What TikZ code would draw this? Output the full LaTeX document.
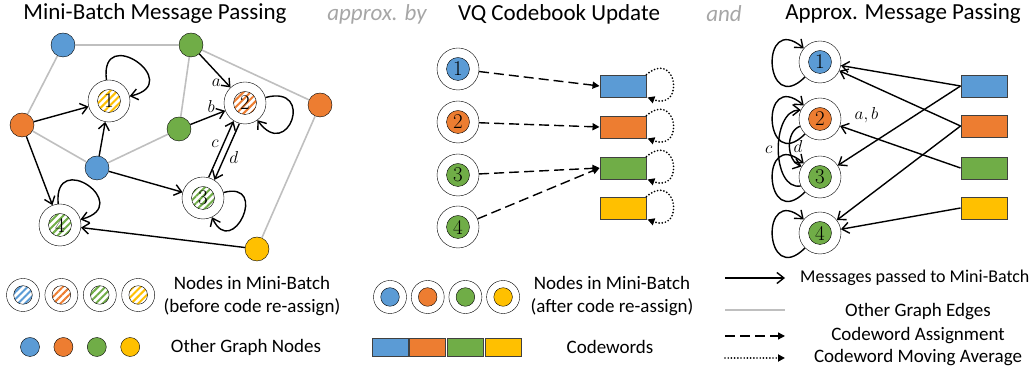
\documentclass[tikz,border=0pt]{standalone}
\usepackage{fontspec}
\setsansfont{Carlito}
\usetikzlibrary{arrows.meta, positioning, calc, patterns.meta}

\definecolor{cblue}{HTML}{5B9BD5}
\definecolor{corange}{HTML}{ED7D31}
\definecolor{cgreen}{HTML}{70AD47}
\definecolor{cyellow}{HTML}{FFC000}
\definecolor{cgray}{HTML}{BFBFBF}
\definecolor{ctext}{HTML}{A6A6A6}

\newcommand{\titlefont}{\sffamily\fontsize{23}{27}\selectfont}
\newcommand{\legfont}{\sffamily\fontsize{19}{23}\selectfont}
\newcommand{\numfont}{\rmfamily\fontsize{21}{24}\selectfont}

\begin{document}
\begin{tikzpicture}[
    x=1pt, y=1pt,
    title/.style={font=\titlefont},
    joiner/.style={font=\titlefont\itshape, text=ctext},
    legend/.style={font=\legfont, align=center},
    other/.style={circle, draw, thin, fill=#1, minimum size=24pt, inner sep=0pt},
    hatched/.style 2 args={circle, draw, thin, fill=white, minimum size=42pt, inner sep=0pt, font=\numfont,
        path picture={\draw[thin, pattern={Lines[angle=45,distance=5pt,line width=2pt]}, pattern color=#1]
            (path picture bounding box.center) circle[radius=#2];}},
    filled/.style 2 args={circle, draw, thin, fill=white, minimum size=42pt, inner sep=0pt, font=\numfont,
        path picture={\draw[thin, fill=#1] (path picture bounding box.center) circle[radius=#2];}},
    codeword/.style={rectangle, draw=black!75, line width=0.9pt, fill=#1, minimum width=46pt, minimum height=22pt, inner sep=0pt},
    lbl/.style={font=\fontsize{17}{19}\selectfont},
    msg/.style={-{Straight Barb[length=7pt,width=11pt]}, line width=1.4pt},
    graphedge/.style={draw=cgray, line width=1.6pt},
    assign/.style={-{Triangle[length=7pt,width=7pt]}, line width=1.4pt, dash pattern=on 10pt off 5pt},
    ema/.style={-{Triangle[length=7pt,width=7pt]}, line width=1.9pt, line cap=round, dash pattern=on 0pt off 3.2pt}
]
\useasboundingbox (0,0) rectangle (1031,371);

% Titles
\node[title] (t1) at (155,357) {Mini-Batch Message Passing};
\node[joiner] (t2) at (377,357) {approx. by};
\node[title] (t3) at (559,357) {VQ Codebook Update};
\node[joiner] (t4) at (724,357) {and};
\node[title] (t5) at (903,357) {Approx. Message Passing};

% Graph: other nodes
\node[other=cblue] (bt) at (63,326) {};
\node[other=corange] (ol) at (22,246) {};
\node[other=cblue] (bm) at (97,203) {};
\node[other=cgreen] (gt) at (191,326) {};
\node[other=cgreen] (gm) at (179,242) {};
\node[other=corange] (or) at (320,266) {};
\node[other=cyellow] (yb) at (257,122) {};

% Graph: mini-batch nodes
\node[hatched={cyellow}{11.5pt}] (n1) at (109,270) {1};
\node[hatched={corange}{11.5pt}] (n2) at (245,268) {2};
\node[hatched={cgreen}{11.5pt}] (n3) at (203,173) {3};
\node[hatched={cgreen}{11.5pt}] (n4) at (60,146) {4};

\draw[graphedge] (bt) -- (gt);
\draw[graphedge] (bt) -- (ol);
\draw[graphedge] (gt) -- (gm);
\draw[graphedge] (gt) -- (or);
\draw[graphedge] (ol) -- (bm);
\draw[graphedge] (bm) -- (gm);
\draw[graphedge] (or) -- (yb);

\draw[msg] (ol) -- (n1);
\draw[msg] (ol) -- (n4);
\draw[msg] (bm) -- (n1);
\draw[msg] (bm) -- (n3);
\draw[msg] (yb) -- (n4);
\draw[msg] (gt) -- node[lbl, pos=0.85, left=1pt] {$a$} (n2);
\draw[msg] (gm) -- node[lbl, pos=0.6, above] {$b$} (n2);
\draw[msg, transform canvas={shift={(-2.9pt,1.3pt)}}] (n3) -- node[lbl, pos=0.6, left=1pt] {$c$} (n2);
\draw[msg, transform canvas={shift={(2.9pt,-1.3pt)}}] (n2) -- node[lbl, pos=0.6, right=1pt] {$d$} (n3);

\draw[msg] (n1) to[out=97,in=13,distance=58pt] (n1);
\draw[msg] (n4) to[out=95,in=15,distance=56pt] (n4);
\draw[msg] (n2) to[out=15,in=-54,distance=52pt] (n2);
\draw[msg] (n3) to[out=15,in=-65,distance=48pt] (n3);

% Codebook update
\node[filled={cblue}{11.5pt}] (m1) at (458,302) {1};
\node[filled={corange}{11.5pt}] (m2) at (458,249) {2};
\node[filled={cgreen}{11.5pt}] (m3) at (458,196) {3};
\node[filled={cgreen}{11.5pt}] (m4) at (458,144) {4};

\node[codeword=cblue] (c1) at (623,285) {};
\node[codeword=corange] (c2) at (623,244) {};
\node[codeword=cgreen] (c3) at (623,203) {};
\node[codeword=cyellow] (c4) at (623,163) {};

\draw[assign] (m1) -- (c1.west);
\draw[assign] (m2) -- (c2.west);
\draw[assign] (m3) -- (c3.west);
\draw[assign] (m4) -- (c3.west);

\foreach \c in {c1,c2,c3,c4}
    \draw[ema] (\c.north east) to[out=40,in=-20,distance=40pt] ([xshift=1pt]\c.south east);

% Approx. message passing
\node[filled={cblue}{11.5pt}] (r1) at (820,309) {1};
\node[filled={corange}{11.5pt}] (r2) at (820,252) {2};
\node[filled={cgreen}{11.5pt}] (r3) at (820,194) {3};
\node[filled={cgreen}{11.5pt}] (r4) at (820,138) {4};

\node[codeword=cblue] (d1) at (984,285) {};
\node[codeword=corange] (d2) at (984,245) {};
\node[codeword=cgreen] (d3) at (984,203) {};
\node[codeword=cyellow] (d4) at (984,163) {};

\draw[msg] (d1.west) -- (r1);
\draw[msg] (d1.west) -- (r3);
\draw[msg] (d2.west) -- (r1);
\draw[msg] (d2.west) -- (r4);
\draw[msg] (d3.west) -- node[lbl, pos=0.78, above=8pt] {$a,b$} (r2);
\draw[msg] (d4.west) -- (r4);

\foreach \r in {r1,r2,r3,r4}
    \draw[msg] (\r) to[out=225,in=140,distance=58pt] (\r);
\draw[msg] (r3.205) to[out=190,in=180,distance=30pt] node[lbl, pos=0.5, left=2pt] {$c$} (r2.155);
\draw[msg] (r2.200) to[out=200,in=160,distance=16pt] node[lbl, pos=0.5, right=0pt] {$d$} (r3.150);

% Legend: nodes
\node[hatched={cblue}{9.3pt}, minimum size=33pt] (lh1) at (23,76) {};
\node[hatched={corange}{9.3pt}, minimum size=33pt, right=5pt of lh1] (lh2) {};
\node[hatched={cgreen}{9.3pt}, minimum size=33pt, right=5pt of lh2] (lh3) {};
\node[hatched={cyellow}{9.3pt}, minimum size=33pt, right=5pt of lh3] (lh4) {};
\node[legend] (lht) at (252,75) {Nodes in Mini-Batch\\(before code re-assign)};

\node[other=cblue, minimum size=19pt] (lo1) at (30,24) {};
\node[other=corange, minimum size=19pt, right=14pt of lo1] (lo2) {};
\node[other=cgreen, minimum size=19pt, right=14pt of lo2] (lo3) {};
\node[other=cyellow, minimum size=19pt, right=14pt of lo3] (lo4) {};
\node[legend] (lot) at (246,24) {Other Graph Nodes};

\node[filled={cblue}{9.3pt}, minimum size=33pt] (lf1) at (390,74) {};
\node[filled={corange}{9.3pt}, minimum size=33pt, right=4.3pt of lf1] (lf2) {};
\node[filled={cgreen}{9.3pt}, minimum size=33pt, right=4.3pt of lf2] (lf3) {};
\node[filled={cyellow}{9.3pt}, minimum size=33pt, right=4.3pt of lf3] (lf4) {};
\node[legend] (lft) at (612,75) {Nodes in Mini-Batch\\(after code re-assign)};

\node[codeword=cblue, minimum width=36pt, minimum height=18pt] (lc1) at (390,24) {};
\node[codeword=corange, minimum width=36pt, minimum height=18pt, right=1pt of lc1] (lc2) {};
\node[codeword=cgreen, minimum width=36pt, minimum height=18pt, right=1pt of lc2] (lc3) {};
\node[codeword=cyellow, minimum width=36pt, minimum height=18pt, right=1pt of lc3] (lc4) {};
\node[legend] (lct) at (610,24) {Codewords};

% Legend: connectors
\coordinate (la1) at (725,93);  \coordinate (lb1) at (785,93);
\coordinate (la2) at (725,61);  \coordinate (lb2) at (785,61);
\coordinate (la3) at (725,35);  \coordinate (lb3) at (785,35);
\coordinate (la4) at (725,13);  \coordinate (lb4) at (785,13);
\draw[msg] (la1) -- (lb1);
\draw[graphedge] (la2) -- (lb2);
\draw[assign] (la3) -- (lb3);
\draw[ema] (la4) -- (lb4);
\node[legend, anchor=west, font=\sffamily\fontsize{18}{22}\selectfont, inner sep=1pt] (lt1) at (799,93) {Messages passed to Mini-Batch};
\node[legend] (lt2) at (918,59) {Other Graph Edges};
\node[legend] (lt3) at (918,35) {Codeword Assignment};
\node[legend] (lt4) at (918,13) {Codeword Moving Average};

\end{tikzpicture}
\end{document}
